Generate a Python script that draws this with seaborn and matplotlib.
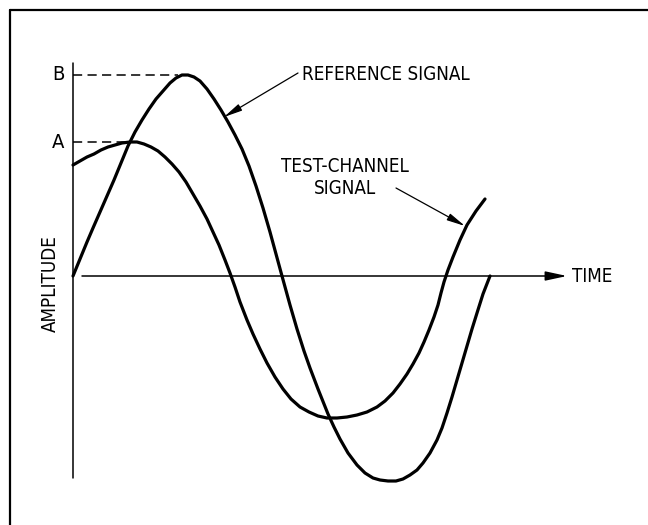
import numpy as np
import pandas as pd
import seaborn as sns
import matplotlib
matplotlib.use('Agg')
import matplotlib.pyplot as plt
from matplotlib import font_manager

# 读图得到的曲线点 (time, amplitude)，零点在两坐标轴交点
ref_time = [0, 7, 14, 20, 27, 34, 41, 48, 55, 62, 69, 76, 83, 90, 97, 103, 109, 115, 121, 127,
            134, 141, 148, 155, 162, 169, 176, 183, 190, 197, 203, 209, 217, 224, 231, 237, 245, 255,
            261, 267, 275, 284, 292, 300, 307, 315, 323, 330, 337, 344, 350, 357, 364, 369, 374, 379,
            384, 389, 394, 399, 404, 410, 417]
ref_amp = [0, 17, 34, 48, 64, 80, 96, 113, 130, 144, 156, 167, 177, 185, 193, 198, 201, 201, 199, 195,
           187, 177, 166, 154, 141, 127, 110, 90, 68, 44, 22, 0, -29, -53, -75, -92, -113, -138,
           -151, -163, -177, -189, -197, -202, -204, -205, -205, -203, -199, -194, -187, -177, -164, -152, -137, -121,
           -104, -87, -70, -53, -37, -18, 0]
test_time = [0, 7, 14, 21, 28, 35, 42, 49, 57, 64, 71, 78, 85, 92, 99, 106, 113, 120, 127, 134,
             140, 146, 152, 157, 162, 167, 174, 180, 187, 194, 202, 210, 218, 227, 236, 245, 254, 264,
             274, 284, 294, 304, 312, 320, 327, 334, 340, 346, 351, 356, 361, 365, 368, 371, 375, 380,
             387, 394, 403, 412]
test_amp = [111, 115, 119, 122, 126, 129, 131, 133, 134, 134, 132, 129, 125, 119, 112, 104, 94, 82, 70, 57,
            44, 31, 16, 3, -11, -26, -44, -58, -73, -87, -101, -113, -123, -131, -136, -140, -142, -142,
            -141, -139, -136, -131, -125, -117, -108, -98, -88, -77, -66, -54, -41, -29, -17, -6, 6, 19,
            36, 51, 65, 77]
level_names = ['B', 'A']
level_values = [201, 134]
level_ends = [105, 52]

sns.set_theme(style='white')
# 找一个窄体字
stretch = 'normal'
fam = 'Liberation Sans'
for f in font_manager.fontManager.ttflist:
    if f.name == 'Liberation Sans Narrow':
        fam = 'Liberation Sans Narrow'
        break
    if f.name == 'DejaVu Sans' and 'Condensed' in f.fname:
        fam = 'DejaVu Sans'
        stretch = 'condensed'
plt.rcParams['font.family'] = [fam, 'DejaVu Sans']
plt.rcParams['font.stretch'] = stretch
plt.rcParams['text.color'] = 'black'
fs = 13.5

fig = plt.figure(figsize=(6.48, 5.25), dpi=100)
fig.patch.set_edgecolor('none')
fig.patch.set_linewidth(0)
ax = fig.add_axes([0, 0, 1, 1])
ax.set_xlim(-73, 575)
ax.set_ylim(-249, 276)
ax.axis('off')

df_ref = pd.DataFrame({'t': ref_time, 'a': ref_amp})
df_test = pd.DataFrame({'t': test_time, 'a': test_amp})
sns.lineplot(data=df_ref, x='t', y='a', sort=False, color='black', lw=2.3, ax=ax,
             solid_joinstyle='round', solid_capstyle='round')
sns.lineplot(data=df_test, x='t', y='a', sort=False, color='black', lw=2.3, ax=ax,
             solid_joinstyle='round', solid_capstyle='round')

# 外框 (左、上)
ax.plot([-63, -63], [-249, 266], color='black', lw=1.6)
ax.plot([-63, 575], [266, 266], color='black', lw=1.6)

# 坐标轴
ax.plot([0, 0], [-202, 213], color='black', lw=1.1)
ax.annotate('', xy=(494, 0), xytext=(9, 0),
            arrowprops=dict(arrowstyle='-|>,head_length=1.3,head_width=0.28',
                            lw=1.1, color='black', mutation_scale=10, shrinkA=0, shrinkB=0))
ax.text(499, 0, 'TIME', fontsize=fs, ha='left', va='center')
ax.text(-23, -8, 'AMPLITUDE', fontsize=fs, rotation=90, ha='center', va='center')

# A / B 虚线
for name, v, e in zip(level_names, level_values, level_ends):
    ax.plot([0, e], [v, v], color='black', lw=1.1, dashes=(6, 3.5))
    ax.text(-15, v, name, fontsize=fs + 1, ha='center', va='center')

# 注释
ax.text(229, 201, 'REFERENCE SIGNAL', fontsize=fs, ha='left', va='center')
ax.annotate('', xy=(151, 159), xytext=(225, 203),
            arrowprops=dict(arrowstyle='-|>,head_length=1.1,head_width=0.22',
                            lw=0.9, color='black', mutation_scale=10, shrinkA=0, shrinkB=0))
ax.text(272, 109, 'TEST-CHANNEL', fontsize=fs, ha='center', va='center')
ax.text(272, 87, 'SIGNAL', fontsize=fs, ha='center', va='center')
ax.annotate('', xy=(392, 50), xytext=(323, 88),
            arrowprops=dict(arrowstyle='-|>,head_length=1.1,head_width=0.22',
                            lw=0.9, color='black', mutation_scale=10, shrinkA=0, shrinkB=0))

plt.savefig('out.png', dpi=100)
